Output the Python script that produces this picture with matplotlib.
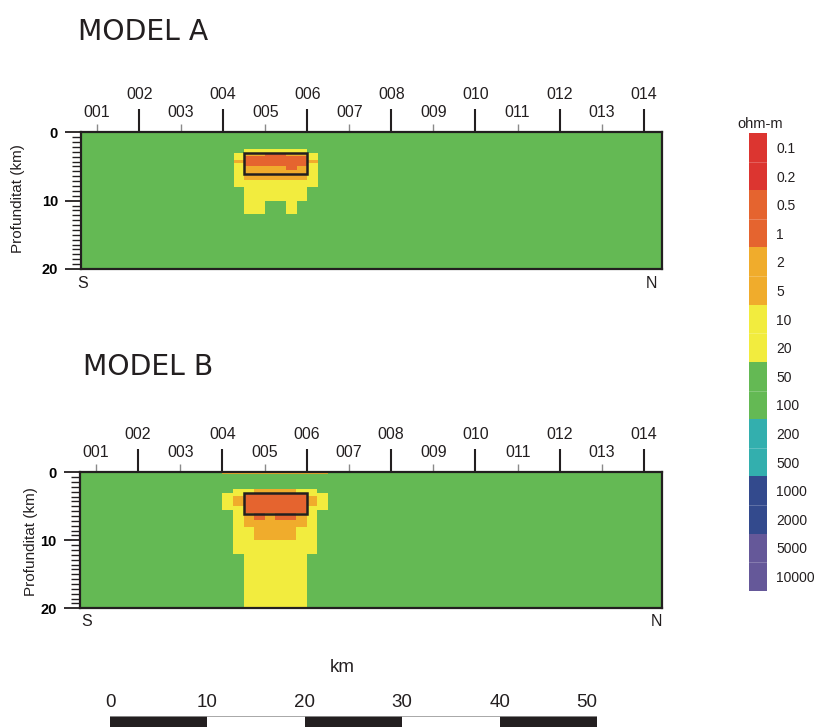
import numpy as np
import matplotlib
matplotlib.use("Agg")
import matplotlib.pyplot as plt
from matplotlib.colors import ListedColormap
from matplotlib.patches import Rectangle

# ---------------- data ----------------
stations_even = [2, 4, 6, 8, 10, 12, 14]
stations_odd = [1, 3, 5, 7, 9, 11, 13]
labels_even = ["002", "004", "006", "008", "010", "012", "014"]
labels_odd = ["001", "003", "005", "007", "009", "011", "013"]

# resistivity classes (code -> colour), legend order top to bottom
class_codes = ["R", "O", "o", "Y", "G", "T", "B", "P"]
class_colors = ["#DC3530", "#E5642F", "#F0AC2C", "#F2EC3E",
                "#64B954", "#33AFAE", "#334A8D", "#655899"]
legend_labels = ["0.1", "0.2", "0.5", "1", "2", "5", "10", "20",
                 "50", "100", "200", "500", "1000", "2000", "5000", "10000"]

# model grid: columns in station units, rows in depth (km)
col_edges = [4.0, 4.25, 4.5, 4.75, 5.0, 5.25, 5.5, 5.75, 6.0, 6.25, 6.5]
depth_edges = [0, 0.2, 2.5, 3.0, 3.5, 4.0, 4.5, 5.0, 5.5, 6.0, 7.0, 8.0, 10.0, 12.0, 20.0]

model_a = [
    "GGGGGGGGGG",
    "GGGGGGGGGG",
    "GGYYYYYYGG",
    "GYooOOooYG",
    "GYOOOOOOYG",
    "GoOOOOOOoG",
    "GYOOOOOOYG",
    "GYooooOoYG",
    "GYooooooYG",
    "GYooooooYG",
    "GYYYYYYYYG",
    "GGYYYYYYGG",
    "GGYYGGYGGG",
    "GGGGGGGGGG",
]
model_b = [
    "oooooooooo",
    "GGGGGGGGGG",
    "GYYooooYYG",
    "YYOOOOOOYY",
    "YoOOOOOOoY",
    "YoOOOOOOoY",
    "YoOOOOOOoY",
    "YYOOOOOOYY",
    "GYOOOOOOYG",
    "GYoOoOOoYG",
    "GYooooooYG",
    "GYYooooYYG",
    "GYYYYYYYYG",
    "GGYYYYYYGG",
]
# target body (station range, depth range)
body_x = (4.5, 6.0)
body_z = (3.0, 6.1)

scale_km = [0, 10, 20, 30, 40, 50]

# ---------------- figure ----------------
W, H = 817, 727
fig = plt.figure(figsize=(W / 100, H / 100), dpi=100)
plt.rcParams['font.family'] = ['Liberation Sans', 'DejaVu Sans']

cmap = ListedColormap(class_colors)
ink = "#231F20"


def px_axes(x0, y0, x1, y1):
    return fig.add_axes([x0 / W, 1 - y1 / H, (x1 - x0) / W, (y1 - y0) / H])


def draw_panel(ax, model):
    C = np.array([[class_codes.index(ch) for ch in row] for row in model])
    ax.set_facecolor(class_colors[class_codes.index("G")])
    ax.pcolormesh(col_edges, depth_edges, C, cmap=cmap, vmin=-0.5,
                  vmax=len(class_codes) - 0.5, shading="flat", zorder=1)
    ax.add_patch(Rectangle((body_x[0], body_z[0]), body_x[1] - body_x[0],
                           body_z[1] - body_z[0], fill=False, ec=ink, lw=1.8, zorder=3))
    ax.set_xlim(0.61, 14.43)
    ax.set_ylim(20, 0)
    ax.xaxis.set_ticks_position("top")
    ax.set_xticks(stations_even, labels=labels_even)
    ax.set_xticks(stations_odd, labels=labels_odd, minor=True)
    ax.tick_params(axis="x", which="major", direction="out", length=16.5, width=1.5,
                   color=ink, pad=5.5, labelsize=11.5, labelcolor=ink)
    ax.tick_params(axis="x", which="minor", direction="out", length=6, width=1.0,
                   color="#8a8a8a", pad=3, labelsize=11.5, labelcolor=ink)
    ax.set_yticks([0, 10, 20], labels=["0", "10", "20"])
    minor = [d for d in np.linspace(0, 20, 29) if d not in (0, 10, 20)]
    ax.set_yticks(minor, minor=True)
    ax.tick_params(axis="y", which="major", direction="out", length=11.3, width=1.3,
                   color=ink, pad=5, labelsize=10.5)
    ax.tick_params(axis="y", which="minor", direction="out", length=6.5, width=1.0,
                   color=ink)
    for t in ax.get_yticklabels():
        t.set_fontweight("bold")
    for s in ax.spines.values():
        s.set_linewidth(1.6)
        s.set_color(ink)
        s.set_zorder(4)


axA = px_axes(80.7, 132.3, 661.7, 269.0)
draw_panel(axA, model_a)
axB = px_axes(79.5, 472.3, 662.3, 608.3)
draw_panel(axB, model_b)

# titles and annotations
fig.text(78 / W, 1 - 40 / H, "MODEL A", fontsize=20.3, family="DejaVu Sans",
         ha="left", va="baseline", color=ink)
fig.text(83 / W, 1 - 375 / H, "MODEL B", fontsize=20.3, family="DejaVu Sans",
         ha="left", va="baseline", color=ink)
fig.text(18 / W, 1 - 199 / H, "Profunditat (km)", rotation=90, fontsize=11,
         ha="center", va="center", color=ink)
fig.text(31 / W, 1 - 542 / H, "Profunditat (km)", rotation=90, fontsize=11,
         ha="center", va="center", color=ink)
for (x, y, s) in [(83, 284, "S"), (651.7, 284, "N"), (86.7, 622, "S"), (656.7, 622, "N")]:
    fig.text(x / W, 1 - y / H, s, fontsize=11.5, ha="center", va="center", color=ink)

# colour bar legend
cax = px_axes(749.3, 133.3, 766.7, 590.7)
leg_idx = np.repeat(np.arange(len(class_colors)), 2).reshape(-1, 1)
cax.imshow(leg_idx, cmap=cmap, vmin=-0.5, vmax=len(class_colors) - 0.5,
           aspect="auto", extent=(0, 1, len(legend_labels), 0), interpolation="nearest")
for k in range(1, len(legend_labels)):
    if k % 2 == 1:
        cax.axhline(k, color="white", lw=0.6, alpha=0.25)
cax.set_xticks([])
cax.yaxis.tick_right()
cax.set_yticks(np.arange(len(legend_labels)) + 0.5, labels=legend_labels)
cax.tick_params(axis="y", length=0, pad=7, labelsize=10, labelcolor=ink)
for s in cax.spines.values():
    s.set_visible(False)
fig.text(760 / W, 1 - 124 / H, "ohm-m", fontsize=10.5, ha="center", va="center", color=ink)

# scale bar
sax = px_axes(110, 715.7, 597, 727)
segs = scale_km[:-1]
sax.bar(segs, 1, width=10, align="edge",
        color=[ink if i % 2 == 0 else "white" for i in range(len(segs))],
        edgecolor="none")
sax.axhline(1, color="#9a9a9a", lw=1.2)
sax.set_xlim(0, 50)
sax.set_ylim(0, 1)
sax.axis("off")
for v in scale_km:
    sax.text(v, 1.4, str(v), fontsize=13.5, ha="right" if v == 50 else "center",
             va="bottom", color=ink, transform=sax.get_xaxis_transform(), clip_on=False)
fig.text(342 / W, 1 - 667 / H, "km", fontsize=13.5, ha="center", va="center", color=ink)

fig.savefig("out.png", dpi=100)
